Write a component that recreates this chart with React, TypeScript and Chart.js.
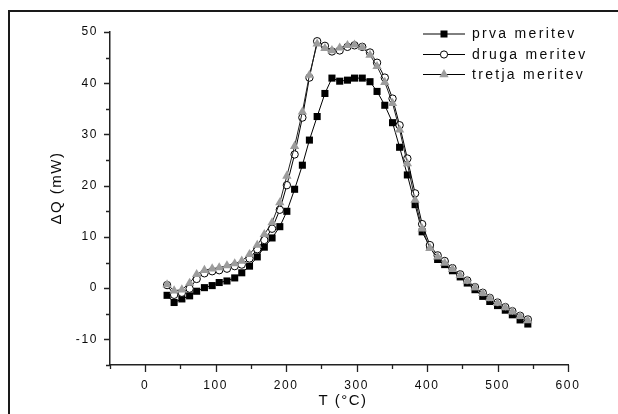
import React, { useEffect, useRef } from 'react';
import { Chart, registerables } from 'chart.js';

Chart.register(...registerables);

// Temperature (°C) of each measurement point
const temperatures = [
  31, 41, 52, 63, 73, 84, 95, 105, 116, 127, 137, 148, 159, 169, 180, 191, 201,
  212, 223, 233, 244, 255, 265, 276, 287, 297, 308, 319, 329, 340, 351, 361, 372,
  383, 393, 404, 415, 425, 436, 447, 457, 468, 479, 489, 500, 511, 521, 532, 543,
];

// ΔQ (mW) – prva meritev (black squares)
const prva = [
  -1.4, -2.8, -2.1, -1.5, -0.6, 0.1, 0.5, 1.1, 1.4, 2.0, 3.0, 4.3, 6.1, 8.0, 9.8, 12.0, 15.0,
  19.3, 24.0, 28.9, 33.5, 38.0, 41.0, 40.4, 40.6, 41.0, 41.0, 40.3, 38.4, 35.7, 32.3, 27.5, 22.1,
  16.3, 11.0, 8.0, 5.6, 4.6, 3.4, 2.2, 1.0, -0.3, -1.6, -2.6, -3.4, -4.3, -5.2, -6.2, -7.0,
];

// ΔQ (mW) – druga meritev (open circles)
const druga = [
  0.6, -1.3, -0.9, -0.1, 1.8, 2.9, 3.3, 3.5, 3.8, 4.3, 4.6, 5.8, 7.6, 9.4, 11.6, 15.3, 20.1,
  26.1, 33.3, 41.1, 48.2, 47.3, 46.2, 46.4, 47.1, 47.4, 47.1, 46.0, 44.0, 41.1, 37.0, 31.8, 25.3,
  18.5, 12.5, 8.4, 6.4, 5.3, 3.9, 2.7, 1.5, 0.2, -0.9, -1.9, -2.8, -3.7, -4.5, -5.4, -6.1,
];

// ΔQ (mW) – tretja meritev (grey triangles)
const tretja = [
  0.7, -0.5, -0.3, 1.0, 2.7, 3.5, 3.8, 4.0, 4.4, 4.8, 5.3, 6.6, 8.4, 10.5, 12.8, 16.7, 21.9,
  27.7, 34.4, 41.6, 47.7, 46.8, 46.4, 46.9, 47.4, 47.5, 47.0, 45.5, 43.3, 40.2, 36.1, 30.9, 24.3,
  17.2, 11.6, 7.8, 6.1, 4.9, 3.7, 2.5, 1.4, 0.1, -1.0, -2.0, -2.9, -3.8, -4.6, -5.5, -6.3,
];

const seriesLabels = ['prva meritev', 'druga meritev', 'tretja meritev'];
const xTitle = 'T (°C)';
const yTitle = 'ΔQ (mW)';
const xMin = -50;
const xMax = 600;
const xStep = 50;
const yMin = -15;
const yMax = 50;
const yStep = 5;

const FONT = '"Liberation Sans", Arial, Helvetica, sans-serif';
const TRI_GREY = '#9c9c9c';
const INK = '#0a0a0a';
const TRI_R = 5.4;

const toPoints = (ys: number[]) => temperatures.map((t, i) => ({ x: t, y: ys[i] }));

function drawMarker(ctx: CanvasRenderingContext2D, kind: string, x: number, y: number) {
  ctx.save();
  if (kind === 'rect') {
    ctx.fillStyle = '#000';
    ctx.fillRect(x - 3.5, y - 3.5, 7, 7);
  } else if (kind === 'circle') {
    ctx.beginPath();
    ctx.arc(x, y, 3.6, 0, Math.PI * 2);
    ctx.fillStyle = '#fff';
    ctx.fill();
    ctx.lineWidth = 1;
    ctx.strokeStyle = '#000';
    ctx.stroke();
  } else {
    const r = TRI_R;
    ctx.beginPath();
    ctx.moveTo(x, y - r);
    ctx.lineTo(x + r * 0.866, y + r * 0.5);
    ctx.lineTo(x - r * 0.866, y + r * 0.5);
    ctx.closePath();
    ctx.fillStyle = TRI_GREY;
    ctx.fill();
  }
  ctx.restore();
}

const decorPlugin = {
  id: 'decor',
  beforeDraw(chart: any) {
    const ctx = chart.ctx as CanvasRenderingContext2D;
    ctx.save();
    ctx.strokeStyle = '#1a1a1a';
    ctx.lineWidth = 2;
    ctx.beginPath();
    ctx.moveTo(9, 414);
    ctx.lineTo(9, 11);
    ctx.lineTo(618, 11);
    ctx.stroke();
    ctx.restore();
    (ctx as any).letterSpacing = '1.6px';
  },
  beforeDatasetsDraw(chart: any) {
    const ctx = chart.ctx as CanvasRenderingContext2D;
    (ctx as any).letterSpacing = '0px';
    const xs = chart.scales.x;
    const ys = chart.scales.y;
    const area = chart.chartArea;
    ctx.save();
    ctx.strokeStyle = '#222';
    ctx.lineWidth = 1.3;
    ctx.beginPath();
    xs.ticks.forEach((t: any) => {
      const px = Math.round(xs.getPixelForValue(t.value)) + 0.5;
      const len = t.value % 100 === 0 ? 7 : 4;
      ctx.moveTo(px, area.bottom);
      ctx.lineTo(px, area.bottom + len);
    });
    ys.ticks.forEach((t: any) => {
      const py = Math.round(ys.getPixelForValue(t.value)) + 0.5;
      const len = t.value % 10 === 0 ? 6 : 4;
      ctx.moveTo(area.left, py);
      ctx.lineTo(area.left - len, py);
    });
    ctx.stroke();
    ctx.restore();
  },
  afterDraw(chart: any) {
    const ctx = chart.ctx as CanvasRenderingContext2D;
    const area = chart.chartArea;
    ctx.save();
    ctx.fillStyle = INK;
    // axis titles
    (ctx as any).letterSpacing = '1.5px';
    ctx.font = `15px ${FONT}`;
    ctx.textAlign = 'center';
    ctx.textBaseline = 'middle';
    ctx.fillText(xTitle, (area.left + area.right) / 2 + 4, 401);
    ctx.save();
    ctx.translate(57, 188);
    ctx.rotate(-Math.PI / 2);
    ctx.fillText(yTitle, 0, 0);
    ctx.restore();

    // legend
    const kinds = ['rect', 'circle', 'triangle'];
    const rows = [33.5, 54, 74];
    (ctx as any).letterSpacing = '2.3px';
    ctx.font = `14px ${FONT}`;
    ctx.textAlign = 'left';
    ctx.textBaseline = 'middle';
    seriesLabels.forEach((lab, i) => {
      const y = rows[i];
      ctx.save();
      ctx.strokeStyle = '#000';
      ctx.lineWidth = 1;
      ctx.beginPath();
      ctx.moveTo(423, y + 0.5);
      ctx.lineTo(465, y + 0.5);
      ctx.stroke();
      ctx.restore();
      drawMarker(ctx, kinds[i], 444, y + 0.5);
      ctx.fillStyle = INK;
      ctx.fillText(lab, 472, y + 1);
    });
    ctx.restore();
    (ctx as any).letterSpacing = '0px';
  },
};

export default function App() {
  const ref = useRef<HTMLCanvasElement | null>(null);

  useEffect(() => {
    if (!ref.current) return;
    const tickFont = { family: FONT, size: 12 };
    const chart = new Chart(ref.current, {
      type: 'scatter',
      data: {
        datasets: [
          {
            label: seriesLabels[0],
            data: toPoints(prva),
            showLine: true,
            borderColor: '#000',
            borderWidth: 1,
            pointStyle: 'rect',
            pointRadius: 5,
            pointBackgroundColor: '#000',
            pointBorderColor: '#000',
            pointBorderWidth: 0,
            order: 3,
          },
          {
            label: seriesLabels[1],
            data: toPoints(druga),
            showLine: true,
            borderColor: '#000',
            borderWidth: 1,
            pointStyle: 'circle',
            pointRadius: 3.7,
            pointBackgroundColor: '#fff',
            pointBorderColor: '#000',
            pointBorderWidth: 1,
            order: 2,
          },
          {
            label: seriesLabels[2],
            data: toPoints(tretja),
            showLine: true,
            borderColor: '#222',
            borderWidth: 1,
            pointStyle: 'triangle',
            pointRadius: TRI_R,
            pointBackgroundColor: TRI_GREY,
            pointBorderColor: TRI_GREY,
            pointBorderWidth: 0,
            order: 1,
          },
        ],
      },
      options: {
        animation: false,
        responsive: false,
        devicePixelRatio: 1,
        layout: { padding: { top: 32, right: 50, left: 0, bottom: 0 } },
        plugins: {
          legend: { display: false },
          tooltip: { enabled: false },
          title: { display: false },
        },
        scales: {
          x: {
            type: 'linear',
            min: xMin,
            max: xMax,
            grid: { display: false },
            border: { display: true, color: '#222', width: 1.5 },
            ticks: {
              stepSize: xStep,
              autoSkip: false,
              maxRotation: 0,
              padding: 5,
              color: INK,
              font: tickFont,
              callback: (v: any) => (v >= 0 && v % 100 === 0 ? String(v) : ''),
            },
            afterFit: (s: any) => {
              s.height = 49;
            },
          },
          y: {
            type: 'linear',
            min: yMin,
            max: yMax,
            grid: { display: false },
            border: { display: true, color: '#222', width: 1.5 },
            ticks: {
              stepSize: yStep,
              autoSkip: false,
              padding: 4,
              color: INK,
              font: tickFont,
              callback: (v: any) => (v % 10 === 0 ? String(v) : ''),
            },
            afterFit: (s: any) => {
              s.width = 110;
            },
          },
        },
      },
      plugins: [decorPlugin],
    } as any);
    return () => chart.destroy();
  }, []);

  return (
    <div style={{ position: 'fixed', left: 0, top: 0, width: 618, height: 414, background: '#fff' }}>
      <canvas ref={ref} width={618} height={414} style={{ display: 'block', width: 618, height: 414 }} />
    </div>
  );
}
